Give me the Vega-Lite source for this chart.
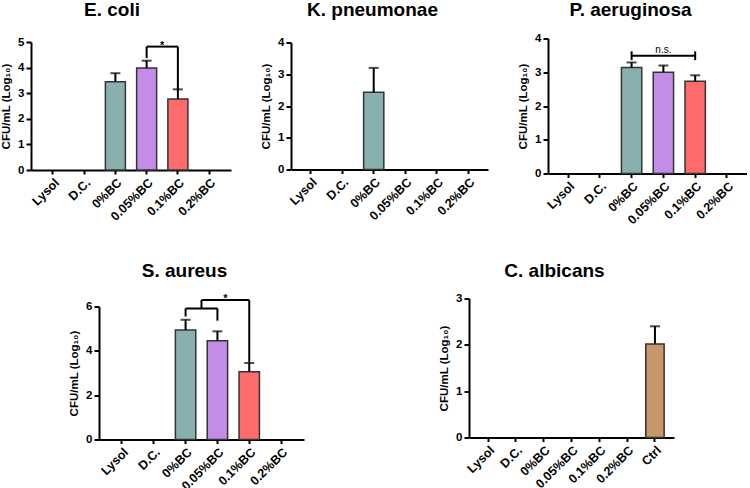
{
"$schema":"https://vega.github.io/schema/vega-lite/v6.json",
"padding":{"left":0,"top":0.5,"right":0,"bottom":0},
"config":{
 "view":{"stroke":null},
 "font":"Liberation Sans",
 "title":{"font":"Liberation Sans","fontSize":19,"fontWeight":"bold","color":"#000","anchor":"middle","frame":"group","baseline":"alphabetic","dx":-17},
 "axis":{"domainColor":"#000","domainWidth":2,"tickColor":"#000","tickWidth":2,"labelFont":"Liberation Sans","labelFontWeight":"bold","labelFontSize":11.5,"labelColor":"#000","titleFont":"Liberation Sans","titleFontSize":11.5,"titleFontWeight":"bold","titleColor":"#000","grid":false,"labelOverlap":false},
 "axisX":{"labelAngle":-45,"tickSize":4,"labelPadding":2,"labelFontSize":12.5},
 "axisY":{"tickSize":5,"labelPadding":2,"titlePadding":6}
},
"datasets":{
 "spacer":[{"z":0}],
 "ecoli":[{"cat":"0%BC","mean":3.45,"upper":3.78},{"cat":"0.05%BC","mean":3.98,"upper":4.27},{"cat":"0.1%BC","mean":2.77,"upper":3.15}],
 "ecoli_br":[{"a":"0.05%BC","b":"0.1%BC","y":4.82,"y2":4.82},{"a":"0.05%BC","b":"0.05%BC","y":4.37,"y2":4.82},{"a":"0.1%BC","b":"0.1%BC","y":3.15,"y2":4.82}],
 "ecoli_txt":[{"a":"0.05%BC","y":4.82,"label":"*"}],
 "kpn":[{"cat":"0%BC","mean":2.43,"upper":3.2}],
 "pae":[{"cat":"0%BC","mean":3.14,"upper":3.29},{"cat":"0.05%BC","mean":3.0,"upper":3.2},{"cat":"0.1%BC","mean":2.73,"upper":2.91}],
 "pae_br":[{"a":"0%BC","b":"0.1%BC","y":3.49,"y2":3.49},{"a":"0%BC","b":"0%BC","y":3.36,"y2":3.62},{"a":"0.1%BC","b":"0.1%BC","y":3.36,"y2":3.62}],
 "pae_txt":[{"a":"0.05%BC","y":3.49,"label":"n.s."}],
 "sau":[{"cat":"0%BC","mean":4.94,"upper":5.4},{"cat":"0.05%BC","mean":4.46,"upper":4.88},{"cat":"0.1%BC","mean":3.06,"upper":3.45}],
 "sau_br":[{"a":"0%BC","b":"0.05%BC","y":5.91,"y2":5.91},{"a":"0%BC","b":"0%BC","y":5.55,"y2":5.91},{"a":"0.05%BC","b":"0.05%BC","y":5.36,"y2":5.91},{"a":"0.1%BC","b":"0.1%BC","y":3.48,"y2":6.29}],
 "sau_leg":[{"a":"0%BC","y":5.91,"y2":6.29}],
 "sau_top":[{"a":"0%BC","b":"0.1%BC","y":6.29,"y2":6.29}],
 "sau_txt":[{"a":"0.05%BC","y":6.29,"label":"*"}],
 "cal":[{"cat":"Ctrl","mean":2.02,"upper":2.4}]
},
"bounds":"flush",
"spacing":260,
"vconcat":[
 {"hconcat":[
  {"width":200,"height":128,"title":{"text":"E. coli","offset":15.7,"dx":-19},
   "layer":[
    {"data":{"name":"ecoli"},"mark":{"type":"bar","stroke":"#333333","strokeWidth":1.5},
     "encoding":{"x":{"field":"cat","type":"nominal","scale":{"domain":["Lysol","D.C.","0%BC","0.05%BC","0.1%BC","0.2%BC"],"paddingInner":0.36,"paddingOuter":0.38},"title":null},
      "y":{"field":"mean","type":"quantitative","scale":{"domain":[0,5]},"axis":{"values":[0,1,2,3,4,5]},"title":"CFU/mL (Log₁₀)"},
      "color":{"field":"cat","type":"nominal","scale":{"domain":["0%BC","0.05%BC","0.1%BC","Ctrl"],"range":["#88B0AE","#C38CE7","#FF6B6B","#C7966A"]},"legend":null}}},
    {"data":{"name":"ecoli"},"mark":{"type":"rule","strokeWidth":2,"color":"#000"},
     "encoding":{"x":{"field":"cat","type":"nominal","scale":{"domain":["Lysol","D.C.","0%BC","0.05%BC","0.1%BC","0.2%BC"],"paddingInner":0.36,"paddingOuter":0.38},"title":null},
      "y":{"field":"mean","type":"quantitative","scale":{"domain":[0,5]},"axis":{"values":[0,1,2,3,4,5]},"title":"CFU/mL (Log₁₀)"},"y2":{"field":"upper"}}},
    {"data":{"name":"ecoli"},"mark":{"type":"tick","orient":"horizontal","size":10,"thickness":2,"color":"#000"},
     "encoding":{"x":{"field":"cat","type":"nominal","scale":{"domain":["Lysol","D.C.","0%BC","0.05%BC","0.1%BC","0.2%BC"],"paddingInner":0.36,"paddingOuter":0.38},"title":null},
      "y":{"field":"upper","type":"quantitative","scale":{"domain":[0,5]},"axis":{"values":[0,1,2,3,4,5]},"title":"CFU/mL (Log₁₀)"}}},
    {"data":{"name":"ecoli_br"},"mark":{"type":"rule","strokeWidth":2,"color":"#000"},
     "encoding":{"x":{"field":"a","type":"nominal","scale":{"domain":["Lysol","D.C.","0%BC","0.05%BC","0.1%BC","0.2%BC"],"paddingInner":0.36,"paddingOuter":0.38},"title":null,"bandPosition":0.5},
      "x2":{"field":"b","bandPosition":0.5},
      "y":{"field":"y","type":"quantitative","scale":{"domain":[0,5]},"axis":{"values":[0,1,2,3,4,5]},"title":"CFU/mL (Log₁₀)"},"y2":{"field":"y2"}}},
    {"data":{"name":"ecoli_txt"},"mark":{"type":"text","fontWeight":"bold","fontSize":11,"baseline":"alphabetic","dy":2,"color":"#000"},
     "encoding":{"x":{"field":"a","type":"nominal","scale":{"domain":["Lysol","D.C.","0%BC","0.05%BC","0.1%BC","0.2%BC"],"paddingInner":0.36,"paddingOuter":0.38},"title":null,"bandPosition":1.28},
      "y":{"field":"y","type":"quantitative","scale":{"domain":[0,5]},"axis":{"values":[0,1,2,3,4,5]},"title":"CFU/mL (Log₁₀)"},"text":{"field":"label"}}}
   ]},
  {"width":197,"height":127,"title":{"text":"K. pneumonae","offset":16.7},
   "layer":[
    {"data":{"name":"kpn"},"mark":{"type":"bar","stroke":"#333333","strokeWidth":1.5},
     "encoding":{"x":{"field":"cat","type":"nominal","scale":{"domain":["Lysol","D.C.","0%BC","0.05%BC","0.1%BC","0.2%BC"],"paddingInner":0.36,"paddingOuter":0.3},"title":null},
      "y":{"field":"mean","type":"quantitative","scale":{"domain":[0,4]},"axis":{"values":[0,1,2,3,4]},"title":"CFU/mL (Log₁₀)"},
      "color":{"field":"cat","type":"nominal","scale":{"domain":["0%BC","0.05%BC","0.1%BC","Ctrl"],"range":["#88B0AE","#C38CE7","#FF6B6B","#C7966A"]},"legend":null}}},
    {"data":{"name":"kpn"},"mark":{"type":"rule","strokeWidth":2,"color":"#000"},
     "encoding":{"x":{"field":"cat","type":"nominal","scale":{"domain":["Lysol","D.C.","0%BC","0.05%BC","0.1%BC","0.2%BC"],"paddingInner":0.36,"paddingOuter":0.3},"title":null},
      "y":{"field":"mean","type":"quantitative","scale":{"domain":[0,4]},"axis":{"values":[0,1,2,3,4]},"title":"CFU/mL (Log₁₀)"},"y2":{"field":"upper"}}},
    {"data":{"name":"kpn"},"mark":{"type":"tick","orient":"horizontal","size":10,"thickness":2,"color":"#000"},
     "encoding":{"x":{"field":"cat","type":"nominal","scale":{"domain":["Lysol","D.C.","0%BC","0.05%BC","0.1%BC","0.2%BC"],"paddingInner":0.36,"paddingOuter":0.3},"title":null},
      "y":{"field":"upper","type":"quantitative","scale":{"domain":[0,4]},"axis":{"values":[0,1,2,3,4]},"title":"CFU/mL (Log₁₀)"}}}
   ]},
  {"width":199,"height":135,"title":{"text":"P. aeruginosa","offset":12.7},
   "layer":[
    {"data":{"name":"pae"},"mark":{"type":"bar","stroke":"#333333","strokeWidth":1.5},
     "encoding":{"x":{"field":"cat","type":"nominal","scale":{"domain":["Lysol","D.C.","0%BC","0.05%BC","0.1%BC","0.2%BC"],"paddingInner":0.36,"paddingOuter":0.31},"title":null},
      "y":{"field":"mean","type":"quantitative","scale":{"domain":[0,4]},"axis":{"values":[0,1,2,3,4]},"title":"CFU/mL (Log₁₀)"},
      "color":{"field":"cat","type":"nominal","scale":{"domain":["0%BC","0.05%BC","0.1%BC","Ctrl"],"range":["#88B0AE","#C38CE7","#FF6B6B","#C7966A"]},"legend":null}}},
    {"data":{"name":"pae"},"mark":{"type":"rule","strokeWidth":2,"color":"#000"},
     "encoding":{"x":{"field":"cat","type":"nominal","scale":{"domain":["Lysol","D.C.","0%BC","0.05%BC","0.1%BC","0.2%BC"],"paddingInner":0.36,"paddingOuter":0.31},"title":null},
      "y":{"field":"mean","type":"quantitative","scale":{"domain":[0,4]},"axis":{"values":[0,1,2,3,4]},"title":"CFU/mL (Log₁₀)"},"y2":{"field":"upper"}}},
    {"data":{"name":"pae"},"mark":{"type":"tick","orient":"horizontal","size":10,"thickness":2,"color":"#000"},
     "encoding":{"x":{"field":"cat","type":"nominal","scale":{"domain":["Lysol","D.C.","0%BC","0.05%BC","0.1%BC","0.2%BC"],"paddingInner":0.36,"paddingOuter":0.31},"title":null},
      "y":{"field":"upper","type":"quantitative","scale":{"domain":[0,4]},"axis":{"values":[0,1,2,3,4]},"title":"CFU/mL (Log₁₀)"}}},
    {"data":{"name":"pae_br"},"mark":{"type":"rule","strokeWidth":2,"color":"#000"},
     "encoding":{"x":{"field":"a","type":"nominal","scale":{"domain":["Lysol","D.C.","0%BC","0.05%BC","0.1%BC","0.2%BC"],"paddingInner":0.36,"paddingOuter":0.31},"title":null,"bandPosition":0.5},
      "x2":{"field":"b","bandPosition":0.5},
      "y":{"field":"y","type":"quantitative","scale":{"domain":[0,4]},"axis":{"values":[0,1,2,3,4]},"title":"CFU/mL (Log₁₀)"},"y2":{"field":"y2"}}},
    {"data":{"name":"pae_txt"},"mark":{"type":"text","fontSize":10,"baseline":"alphabetic","dy":-3,"color":"#000"},
     "encoding":{"x":{"field":"a","type":"nominal","scale":{"domain":["Lysol","D.C.","0%BC","0.05%BC","0.1%BC","0.2%BC"],"paddingInner":0.36,"paddingOuter":0.31},"title":null},
      "y":{"field":"y","type":"quantitative","scale":{"domain":[0,4]},"axis":{"values":[0,1,2,3,4]},"title":"CFU/mL (Log₁₀)"},"text":{"field":"label"}}}
   ]}
 ],"spacing":60,"center":true,"bounds":"flush"},
 {"hconcat":[
  {"data":{"name":"spacer"},"mark":{"type":"text","text":""},"width":68,"height":10},
  {"hconcat":[
   {"vconcat":[
    {"data":{"name":"spacer"},"mark":{"type":"text","text":""},"width":205,"height":8},
    {"width":205,"height":133,"title":{"text":"S. aureus","offset":12},
     "layer":[
      {"data":{"name":"sau"},"mark":{"type":"bar","stroke":"#333333","strokeWidth":1.5},
       "encoding":{"x":{"field":"cat","type":"nominal","scale":{"domain":["Lysol","D.C.","0%BC","0.05%BC","0.1%BC","0.2%BC"],"paddingInner":0.36,"paddingOuter":0.4},"title":null},
        "y":{"field":"mean","type":"quantitative","scale":{"domain":[0,6]},"axis":{"values":[0,2,4,6]},"title":"CFU/mL (Log₁₀)"},
        "color":{"field":"cat","type":"nominal","scale":{"domain":["0%BC","0.05%BC","0.1%BC","Ctrl"],"range":["#88B0AE","#C38CE7","#FF6B6B","#C7966A"]},"legend":null}}},
      {"data":{"name":"sau"},"mark":{"type":"rule","strokeWidth":2,"color":"#000"},
       "encoding":{"x":{"field":"cat","type":"nominal","scale":{"domain":["Lysol","D.C.","0%BC","0.05%BC","0.1%BC","0.2%BC"],"paddingInner":0.36,"paddingOuter":0.4},"title":null},
        "y":{"field":"mean","type":"quantitative","scale":{"domain":[0,6]},"axis":{"values":[0,2,4,6]},"title":"CFU/mL (Log₁₀)"},"y2":{"field":"upper"}}},
      {"data":{"name":"sau"},"mark":{"type":"tick","orient":"horizontal","size":10,"thickness":2,"color":"#000"},
       "encoding":{"x":{"field":"cat","type":"nominal","scale":{"domain":["Lysol","D.C.","0%BC","0.05%BC","0.1%BC","0.2%BC"],"paddingInner":0.36,"paddingOuter":0.4},"title":null},
        "y":{"field":"upper","type":"quantitative","scale":{"domain":[0,6]},"axis":{"values":[0,2,4,6]},"title":"CFU/mL (Log₁₀)"}}},
      {"data":{"name":"sau_br"},"mark":{"type":"rule","strokeWidth":2,"color":"#000"},
       "encoding":{"x":{"field":"a","type":"nominal","scale":{"domain":["Lysol","D.C.","0%BC","0.05%BC","0.1%BC","0.2%BC"],"paddingInner":0.36,"paddingOuter":0.4},"title":null,"bandPosition":0.5},
        "x2":{"field":"b","bandPosition":0.5},
        "y":{"field":"y","type":"quantitative","scale":{"domain":[0,6]},"axis":{"values":[0,2,4,6]},"title":"CFU/mL (Log₁₀)"},"y2":{"field":"y2"}}},
      {"data":{"name":"sau_leg"},"mark":{"type":"rule","strokeWidth":2,"color":"#000"},
       "encoding":{"x":{"field":"a","type":"nominal","scale":{"domain":["Lysol","D.C.","0%BC","0.05%BC","0.1%BC","0.2%BC"],"paddingInner":0.36,"paddingOuter":0.4},"title":null,"bandPosition":1.28},
        "y":{"field":"y","type":"quantitative","scale":{"domain":[0,6]},"axis":{"values":[0,2,4,6]},"title":"CFU/mL (Log₁₀)"},"y2":{"field":"y2"}}},
      {"data":{"name":"sau_top"},"mark":{"type":"rule","strokeWidth":2,"color":"#000"},
       "encoding":{"x":{"field":"a","type":"nominal","scale":{"domain":["Lysol","D.C.","0%BC","0.05%BC","0.1%BC","0.2%BC"],"paddingInner":0.36,"paddingOuter":0.4},"title":null,"bandPosition":1.28},
        "x2":{"field":"b","bandPosition":0.5},
        "y":{"field":"y","type":"quantitative","scale":{"domain":[0,6]},"axis":{"values":[0,2,4,6]},"title":"CFU/mL (Log₁₀)"},"y2":{"field":"y2"}}},
      {"data":{"name":"sau_txt"},"mark":{"type":"text","fontWeight":"bold","fontSize":11,"baseline":"alphabetic","dy":2,"color":"#000"},
       "encoding":{"x":{"field":"a","type":"nominal","scale":{"domain":["Lysol","D.C.","0%BC","0.05%BC","0.1%BC","0.2%BC"],"paddingInner":0.36,"paddingOuter":0.4},"title":null,"bandPosition":0.89},
        "y":{"field":"y","type":"quantitative","scale":{"domain":[0,6]},"axis":{"values":[0,2,4,6]},"title":"CFU/mL (Log₁₀)"},"text":{"field":"label"}}}
     ]}
   ],"spacing":0,"bounds":"flush"},
   {"width":205,"height":139,"title":{"text":"C. albicans","offset":12},
    "layer":[
     {"data":{"name":"cal"},"mark":{"type":"bar","stroke":"#333333","strokeWidth":1.5},
      "encoding":{"x":{"field":"cat","type":"nominal","scale":{"domain":["Lysol","D.C.","0%BC","0.05%BC","0.1%BC","0.2%BC","Ctrl"],"paddingInner":0.34,"paddingOuter":0.355},"title":null},
       "y":{"field":"mean","type":"quantitative","scale":{"domain":[0,3]},"axis":{"values":[0,1,2,3]},"title":"CFU/mL (Log₁₀)"},
       "color":{"field":"cat","type":"nominal","scale":{"domain":["0%BC","0.05%BC","0.1%BC","Ctrl"],"range":["#88B0AE","#C38CE7","#FF6B6B","#C7966A"]},"legend":null}}},
     {"data":{"name":"cal"},"mark":{"type":"rule","strokeWidth":2,"color":"#000"},
      "encoding":{"x":{"field":"cat","type":"nominal","scale":{"domain":["Lysol","D.C.","0%BC","0.05%BC","0.1%BC","0.2%BC","Ctrl"],"paddingInner":0.34,"paddingOuter":0.355},"title":null},
       "y":{"field":"mean","type":"quantitative","scale":{"domain":[0,3]},"axis":{"values":[0,1,2,3]},"title":"CFU/mL (Log₁₀)"},"y2":{"field":"upper"}}},
     {"data":{"name":"cal"},"mark":{"type":"tick","orient":"horizontal","size":10,"thickness":2,"color":"#000"},
      "encoding":{"x":{"field":"cat","type":"nominal","scale":{"domain":["Lysol","D.C.","0%BC","0.05%BC","0.1%BC","0.2%BC","Ctrl"],"paddingInner":0.34,"paddingOuter":0.355},"title":null},
       "y":{"field":"upper","type":"quantitative","scale":{"domain":[0,3]},"axis":{"values":[0,1,2,3]},"title":"CFU/mL (Log₁₀)"}}}
    ]}
  ],"spacing":370,"bounds":"flush"}
 ],"spacing":0,"bounds":"flush"}
]
}
